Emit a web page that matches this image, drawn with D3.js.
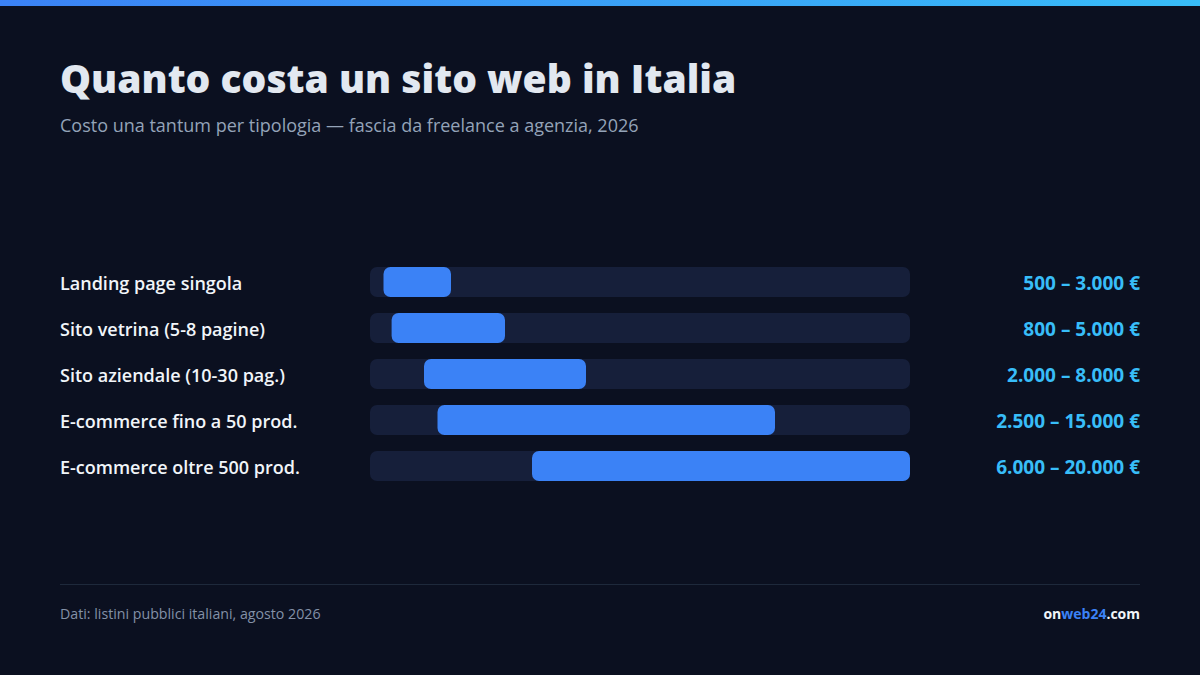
<!DOCTYPE html>
<html><head><meta charset="utf-8">
<script src="https://cdn.jsdelivr.net/npm/d3@7/dist/d3.min.js"></script>
<style>html,body{margin:0;padding:0;background:#0b1020;}svg{display:block;}</style>
</head><body>
<svg id="c" width="1200" height="675"></svg>
<script>
const categories = ["Landing page singola","Sito vetrina (5-8 pagine)","Sito aziendale (10-30 pag.)","E-commerce fino a 50 prod.","E-commerce oltre 500 prod."];
const minValues = [500, 800, 2000, 2500, 6000];
const maxValues = [3000, 5000, 8000, 15000, 20000];
const valueLabels = ["500 – 3.000 €","800 – 5.000 €","2.000 – 8.000 €","2.500 – 15.000 €","6.000 – 20.000 €"];
const domainMax = 20000;

const font = "'Segoe UI', 'Open Sans', 'Noto Sans', sans-serif";
const svg = d3.select("#c");
const W = 1200, H = 675;
svg.append("rect").attr("width", W).attr("height", H).attr("fill", "#0b1020");

const defs = svg.append("defs");
const g = defs.append("linearGradient").attr("id","topg").attr("x1","0").attr("x2","1");
g.append("stop").attr("offset","0").attr("stop-color","#3b82f6");
g.append("stop").attr("offset","1").attr("stop-color","#38bdf8");
svg.append("rect").attr("width", W).attr("height", 6).attr("fill","url(#topg)");

svg.append("text").attr("x",60).attr("y",93).attr("fill","#e2e8f0")
  .attr("font-family",font).attr("font-weight",800).attr("font-size",39)
  .text("Quanto costa un sito web in Italia");
svg.append("text").attr("x",60).attr("y",132).attr("fill","#94a3b8")
  .attr("font-family",font).attr("font-size",18)
  .text("Costo una tantum per tipologia — fascia da freelance a agenzia, 2026");

const x = d3.scaleLinear().domain([0, domainMax]).range([370, 910]);
// band step 46, band height 30
const y2 = d3.scaleBand().domain(categories).range([267, 267 + 46*5 - 16]).paddingInner(16/46);

const rows = svg.append("g").selectAll("g").data(categories).join("g");
rows.append("rect").attr("x", x(0)).attr("width", x(domainMax)-x(0))
  .attr("y", d => y2(d)).attr("height", y2.bandwidth()).attr("rx", 7).attr("fill", "#161f3a");
rows.append("rect").attr("x", (d,i) => x(minValues[i])).attr("width", (d,i) => x(maxValues[i]) - x(minValues[i]))
  .attr("y", d => y2(d)).attr("height", y2.bandwidth()).attr("rx", 7).attr("fill", "#3b82f6");
rows.append("text").attr("x", 60).attr("y", d => y2(d) + y2.bandwidth()/2).attr("dy","0.44em")
  .attr("fill","#f1f5f9").attr("font-family",font).attr("font-weight",600).attr("font-size",18)
  .text(d => d);
rows.append("text").attr("x", 1140).attr("y", d => y2(d) + y2.bandwidth()/2).attr("dy","0.44em")
  .attr("text-anchor","end").attr("fill","#38bdf8").attr("font-family",font).attr("font-weight",700).attr("font-size",19)
  .text((d,i) => valueLabels[i]);

svg.append("line").attr("x1",60).attr("x2",1140).attr("y1",584.5).attr("y2",584.5).attr("stroke","#1e293b").attr("stroke-width",1);
svg.append("text").attr("x",60).attr("y",619).attr("fill","#8391a7").attr("font-family",font).attr("font-size",14.2)
  .text("Dati: listini pubblici italiani, agosto 2026");
const brand = svg.append("text").attr("x",1140).attr("y",619).attr("text-anchor","end")
  .attr("font-family",font).attr("font-weight",700).attr("font-size",14);
brand.append("tspan").attr("fill","#f1f5f9").text("on");
brand.append("tspan").attr("fill","#3b82f6").text("web24");
brand.append("tspan").attr("fill","#f1f5f9").text(".com");
</script>
</body></html>
